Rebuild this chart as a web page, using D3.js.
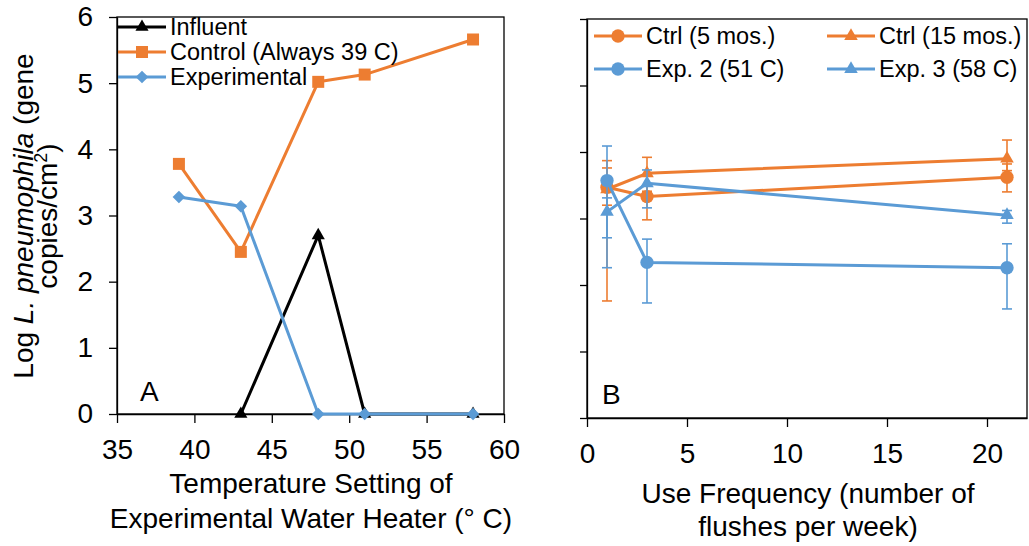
<!DOCTYPE html>
<html>
<head>
<meta charset="UTF-8">
<script src="https://d3js.org/d3.v7.min.js"></script>
<style>
  body { margin: 0; background: #fff; }
  svg { font-family: Arial, "Liberation Sans", sans-serif; }
  .axis path, .axis line { stroke: #000; stroke-width: 1.3px; }
  .axis text { font-size: 28px; fill: #000; }
</style>
</head>
<body>
<svg id="chart" width="1029" height="546"></svg>
<script>
// ---- panel A: temperature setting
const tempSettings = [39, 43, 48, 51, 58];
const influent     = [null, 0, 2.7, 0, 0];
const control      = [3.78, 2.45, 5.02, 5.13, 5.66];
const experimental = [3.28, 3.14, 0, 0, 0];
const tempTicks = [35, 40, 45, 50, 55, 60];
const logTicks  = [0, 1, 2, 3, 4, 5, 6];

// ---- panel B: use frequency (value, error up, error down)
const flushes   = [1, 3, 21];
const ctrl5     = [3.47, 3.33, 3.62];
const ctrl5Up   = [0.29, 0.16, 0.2];
const ctrl5Dn   = [0.27, 0.35, 0.22];
const ctrl15    = [3.44, 3.68, 3.9];
const ctrl15Up  = [0.43, 0.24, 0.28];
const ctrl15Dn  = [1.68, 0.27, 0.18];
const exp2      = [3.57, 2.34, 2.26];
const exp2Up    = [0.52, 0.35, 0.36];
const exp2Dn    = [0.86, 0.61, 0.62];
const exp3      = [3.1, 3.53, 3.05];
const exp3Up    = [0.21, 0.2, 0.07];
const exp3Dn    = [0.84, 0.37, 0.12];
const freqTicks = [0, 5, 10, 15, 20];

const ORANGE = "#ED7D31", BLUE = "#5B9BD5";
const svg = d3.select("#chart");

function marker(type, size) {
  const t = { square: d3.symbolSquare, diamond: d3.symbolSquare,
              triangle: d3.symbolTriangle, circle: d3.symbolCircle }[type];
  return d3.symbol().type(t).size(size)();
}

function frame(x, y) {
  const [x0, x1] = x.range(), [y0, y1] = y.range();
  svg.append("rect")
    .attr("x", x0).attr("y", y1).attr("width", x1 - x0).attr("height", y0 - y1)
    .attr("fill", "none").attr("stroke", "#000").attr("stroke-width", 1.3);
}

function drawSeries(g, x, y, xs, ys, color, type, size) {
  const pts = xs.map((d, i) => ({ x: d, y: ys[i] })).filter(d => d.y != null);
  g.append("path")
    .attr("d", d3.line().x(d => x(d.x)).y(d => y(d.y))(pts))
    .attr("fill", "none").attr("stroke", color).attr("stroke-width", 3)
    .attr("stroke-linejoin", "round");
  g.selectAll(null).data(pts).enter().append("path")
    .attr("d", marker(type, size))
    .attr("transform", d => `translate(${x(d.x)},${y(d.y)})` + (type === "diamond" ? " rotate(45)" : ""))
    .attr("fill", color);
}

function errorBars(g, x, y, xs, ys, up, dn, color) {
  const bars = xs.map((d, i) => ({ x: d, hi: ys[i] + up[i], lo: ys[i] - dn[i] }));
  const eb = g.append("g").attr("stroke", color).attr("stroke-width", 1.6);
  bars.forEach(b => {
    eb.append("line").attr("x1", x(b.x)).attr("x2", x(b.x)).attr("y1", y(b.hi)).attr("y2", y(b.lo));
    [b.hi, b.lo].forEach(v => eb.append("line")
      .attr("x1", x(b.x) - 5).attr("x2", x(b.x) + 5).attr("y1", y(v)).attr("y2", y(v)));
  });
}

function legendItem(lx, ly, color, type, size, label) {
  const g = svg.append("g").attr("transform", `translate(${lx},${ly})`);
  g.append("line").attr("x1", 0).attr("x2", 48).attr("stroke", color).attr("stroke-width", 3);
  g.append("path").attr("d", marker(type, size))
    .attr("transform", "translate(24,0)" + (type === "diamond" ? " rotate(45)" : "")).attr("fill", color);
  g.append("text").attr("x", 52).attr("dy", "0.35em").attr("font-size", 23.5).text(label);
}

// ================= Panel A =================
const xA = d3.scaleLinear().domain([35, 60]).range([117, 504]);
const yA = d3.scaleLinear().domain([0, 6]).range([414, 17]);
frame(xA, yA);

svg.append("g").attr("class", "axis").attr("transform", "translate(0,414)")
  .call(d3.axisBottom(xA).tickValues(tempTicks).tickSize(9).tickSizeOuter(0).tickPadding(16));
svg.append("g").attr("class", "axis").attr("transform", "translate(117,0)")
  .call(d3.axisLeft(yA).tickValues(logTicks).tickFormat(d3.format("d"))
    .tickSize(8).tickSizeOuter(0).tickPadding(16));

const gA = svg.append("g");
drawSeries(gA, xA, yA, tempSettings, influent, "#000", "triangle", 75);
drawSeries(gA, xA, yA, tempSettings, control, ORANGE, "square", 144);
drawSeries(gA, xA, yA, tempSettings, experimental, BLUE, "diamond", 80);

legendItem(118, 27, "#000", "triangle", 75, "Influent");
legendItem(118, 52, ORANGE, "square", 144, "Control (Always 39 C)");
legendItem(118, 77, BLUE, "diamond", 80, "Experimental");

svg.append("text").attr("x", 140).attr("y", 401).attr("font-size", 28).text("A");

// y title (two lines, rotated)
const yTitle = svg.append("text").attr("font-size", 28).attr("text-anchor", "middle")
  .attr("transform", "translate(33,216) rotate(-90)");
yTitle.append("tspan").text("Log ");
yTitle.append("tspan").attr("font-style", "italic").text("L. pneumophila");
yTitle.append("tspan").text(" (gene");
const yTitle2 = svg.append("text").attr("font-size", 28).attr("text-anchor", "middle")
  .attr("transform", "translate(57,216) rotate(-90)");
yTitle2.append("tspan").text("copies/cm");
yTitle2.append("tspan").attr("font-size", 18).attr("dy", -10).text("2");
yTitle2.append("tspan").attr("dy", 10).text(")");

svg.append("text").attr("x", 311).attr("y", 493).attr("font-size", 28)
  .attr("text-anchor", "middle").text("Temperature Setting of");
svg.append("text").attr("x", 311).attr("y", 528).attr("font-size", 28)
  .attr("text-anchor", "middle").text("Experimental Water Heater (° C)");

// ================= Panel B =================
const xB = d3.scaleLinear().domain([0, 22]).range([587, 1027]);
const yB = d3.scaleLinear().domain([0, 6]).range([418, 19]);
frame(xB, yB);

svg.append("g").attr("class", "axis").attr("transform", "translate(0,418)")
  .call(d3.axisBottom(xB).tickValues(freqTicks).tickSize(9).tickSizeOuter(0).tickPadding(16));
svg.append("g").attr("class", "axis").attr("transform", "translate(587,0)")
  .call(d3.axisLeft(yB).tickValues(logTicks).tickSize(7).tickSizeOuter(0).tickFormat(""));

const gB = svg.append("g");
errorBars(gB, xB, yB, flushes, ctrl5, ctrl5Up, ctrl5Dn, ORANGE);
drawSeries(gB, xB, yB, flushes, ctrl5, ORANGE, "circle", 140);
errorBars(gB, xB, yB, flushes, ctrl15, ctrl15Up, ctrl15Dn, ORANGE);
drawSeries(gB, xB, yB, flushes, ctrl15, ORANGE, "triangle", 80);
errorBars(gB, xB, yB, flushes, exp2, exp2Up, exp2Dn, BLUE);
drawSeries(gB, xB, yB, flushes, exp2, BLUE, "circle", 140);
errorBars(gB, xB, yB, flushes, exp3, exp3Up, exp3Dn, BLUE);
drawSeries(gB, xB, yB, flushes, exp3, BLUE, "triangle", 80);

legendItem(594, 36, ORANGE, "circle", 140, "Ctrl (5 mos.)");
legendItem(827, 36, ORANGE, "triangle", 80, "Ctrl (15 mos.)");
legendItem(594, 69, BLUE, "circle", 140, "Exp. 2 (51 C)");
legendItem(827, 69, BLUE, "triangle", 80, "Exp. 3 (58 C)");

svg.append("text").attr("x", 602).attr("y", 404).attr("font-size", 28).text("B");

svg.append("text").attr("x", 808).attr("y", 503).attr("font-size", 28)
  .attr("text-anchor", "middle").text("Use Frequency (number of");
svg.append("text").attr("x", 808).attr("y", 536).attr("font-size", 28)
  .attr("text-anchor", "middle").text("flushes per week)");
</script>
</body>
</html>
